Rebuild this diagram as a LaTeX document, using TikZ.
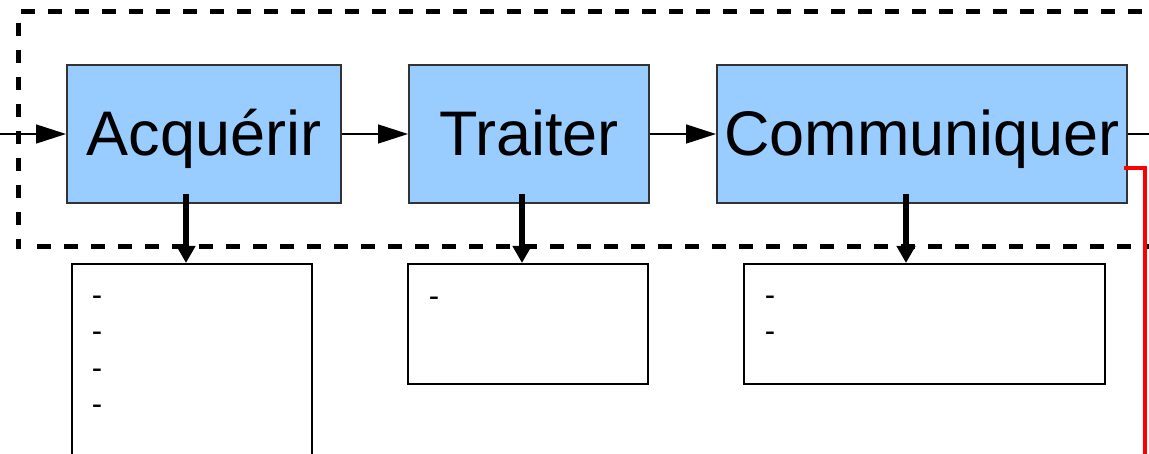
\documentclass[tikz,border=0pt]{standalone}
\usepackage{fontspec}
\setmainfont{Liberation Sans}
\usetikzlibrary{arrows.meta,calc}
\definecolor{stageblue}{HTML}{99CCFF}
\definecolor{boxgray}{HTML}{333333}
\begin{document}
\begin{tikzpicture}[x=1pt,y=-1pt,
  stage/.style={draw=boxgray,line width=2pt,fill=stageblue,minimum height=138pt,inner sep=0pt,
    text height=44pt,text depth=0pt,font=\fontsize{63}{70}\selectfont},
  note/.style={draw=black,line width=2pt,fill=white,inner sep=0pt},
  flow/.style={line width=1.5pt,-{Triangle[length=30pt,width=19pt]}},
  plain/.style={line width=1.5pt},
  dnarrow/.style={line width=5.5pt,-{Triangle[length=17pt,width=18pt]}},
  hy/.style={anchor=base west,inner sep=0pt,font=\fontsize{31}{36}\selectfont},
  dframe/.style={line width=5pt,dash pattern=on 13.5pt off 13.5pt},
  redline/.style={draw=red,line width=4.5pt,line join=miter}]
\useasboundingbox (0,0) rectangle (1149,454);
% dashed frame (right side runs off the picture)
\draw[dframe] (21,12) -- (1170,12);
\draw[dframe] (18,23) -- (18,249);
\draw[dframe] (37,247) -- (1170,247);
% stages
\node[stage,minimum width=274pt] (acq) at (204,134) {Acquérir};
\node[stage,minimum width=240pt] (tra) at (529,134) {Traiter};
\node[stage,minimum width=410pt] (com) at (922,134) {Communiquer};
% note boxes
\node[note,minimum width=240pt,minimum height=210pt] (l1) at (192,369) {};
\node[note,minimum width=240pt,minimum height=120pt] (l2) at (528,324) {};
\node[note,minimum width=361pt,minimum height=120pt] (l3) at (924.5,324) {};
% hyphens
\foreach \y in {305.7,341.7,378.7,414.7} \node[hy] at (91.6,\y) {-};
\node[hy] at (428.6,306.7) {-};
\foreach \y in {305.7,341.7} \node[hy] at (764.6,\y) {-};
% flow connectors
\coordinate (src) at (-5,134);
\coordinate (snk) at (1160,134);
\draw[flow] (src) -- (acq.west);
\draw[flow] (acq.east) -- (tra.west);
\draw[flow] (tra.east) -- (com.west);
\draw[plain] (com.east) -- (snk);
% down arrows
\coordinate (a1) at ($(acq.south)+(-18,-10)$);
\coordinate (a2) at ($(tra.south)+(-7,-10)$);
\coordinate (a3) at ($(com.south)+(-16,-10)$);
\draw[dnarrow] (a1) -- (a1 |- l1.north);
\draw[dnarrow] (a2) -- (a2 |- l2.north);
\draw[dnarrow] (a3) -- (a3 |- l3.north);
% red line
\coordinate (rs) at ($(com.east)+(-4,34)$);
\coordinate (re) at (1145,470);
\draw[redline] (rs) -- (rs -| re) -- (re);
\end{tikzpicture}
\end{document}
